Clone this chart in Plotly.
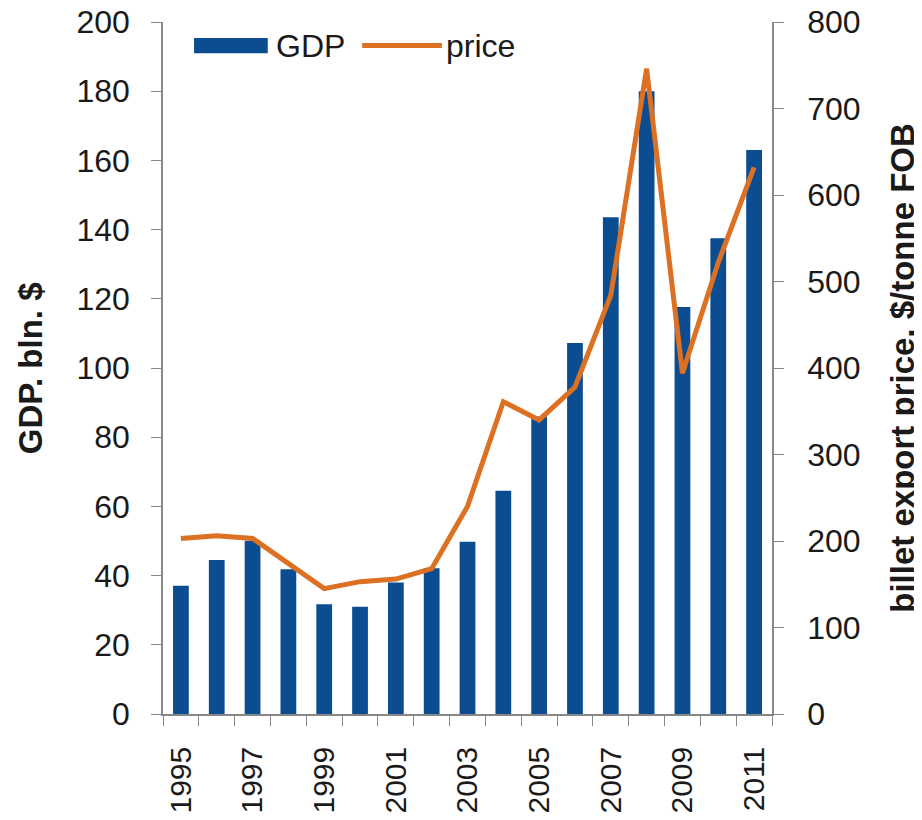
import plotly.graph_objects as go

# data
years = [str(y) for y in range(1995, 2012)]
gdp = [37.1, 44.5, 50.1, 41.8, 31.7, 31.0, 38.0, 42.1, 49.8, 64.5,
       86.0, 107.2, 143.6, 180.0, 117.6, 137.5, 163.0]
price = [203, 206, 203, 174, 145, 153, 156, 168, 240, 361,
         340, 378, 484, 746, 394, 522, 632]
tick_text = [y if int(y) % 2 == 1 else "" for y in years]

BLUE = "#0c4d91"
ORANGE = "#dc7023"
AXIS = "#878787"
TXT = "#1a1a1a"
FONT = "Liberation Sans, Arial, sans-serif"

fig = go.Figure()
fig.add_trace(go.Bar(x=years, y=gdp, name="GDP", marker=dict(color=BLUE, line=dict(width=0)),
                     yaxis="y"))
fig.add_trace(go.Scatter(x=years, y=price, name="price", mode="lines",
                         line=dict(color=ORANGE, width=5), yaxis="y2"))

# page body adds an 8px offset, so the figure is 8px smaller than the window
fig.update_layout(
    width=914, height=812,
    margin=dict(l=155, r=150, t=14, b=106, autoexpand=False),
    paper_bgcolor="white", plot_bgcolor="white",
    font=dict(family=FONT, size=32, color=TXT),
    bargap=0.56,
    showlegend=False,
    xaxis=dict(
        type="category", tickvals=years, ticktext=tick_text,
        tickangle=-90, tickson="boundaries", tickfont=dict(size=30),
        ticks="outside", ticklen=10, tickcolor=AXIS, ticklabelstandoff=19,
        showline=True, linecolor=AXIS, linewidth=1.5,
        showgrid=False, automargin=False,
    ),
    yaxis=dict(
        range=[0, 200], dtick=20, ticks="outside", ticklen=10, tickcolor=AXIS,
        ticklabelstandoff=15, ticklabeloverflow="allow", automargin=False,
        showline=True, linecolor=AXIS, linewidth=1.5, showgrid=False, zeroline=False,
    ),
    yaxis2=dict(
        range=[0, 800], dtick=100, overlaying="y", side="right",
        ticks="outside", ticklen=10, tickcolor=AXIS,
        ticklabelstandoff=17, ticklabeloverflow="allow", automargin=False,
        showline=True, linecolor=AXIS, linewidth=1.5, showgrid=False, zeroline=False,
    ),
)

# axis titles as annotations so they sit where the original has them
fig.add_annotation(text="<b>GDP. bln. $</b>", xref="paper", yref="paper", x=-0.218, y=0.5,
                   textangle=-90, xanchor="center", yanchor="middle", showarrow=False,
                   font=dict(size=33))
fig.add_annotation(text="<b>billet export price, $/tonne FOB</b>", xref="paper", yref="paper",
                   x=1.213, y=0.5, textangle=-90, xanchor="center", yanchor="middle",
                   showarrow=False, font=dict(size=33))

# legend drawn by hand to get the wide keys of the original
fig.add_shape(type="rect", xref="paper", yref="paper", x0=0.051, x1=0.172, y0=0.955, y1=0.977,
              fillcolor=BLUE, line=dict(width=0))
fig.add_shape(type="line", xref="paper", yref="paper", x0=0.327, x1=0.458, y0=0.966, y1=0.966,
              line=dict(color=ORANGE, width=5))
fig.add_annotation(text="GDP", xref="paper", yref="paper", x=0.183, y=0.966,
                   xanchor="left", yanchor="middle", showarrow=False, font=dict(size=32))
fig.add_annotation(text="price", xref="paper", yref="paper", x=0.462, y=0.966,
                   xanchor="left", yanchor="middle", showarrow=False, font=dict(size=32))

fig.write_html("out.html")
